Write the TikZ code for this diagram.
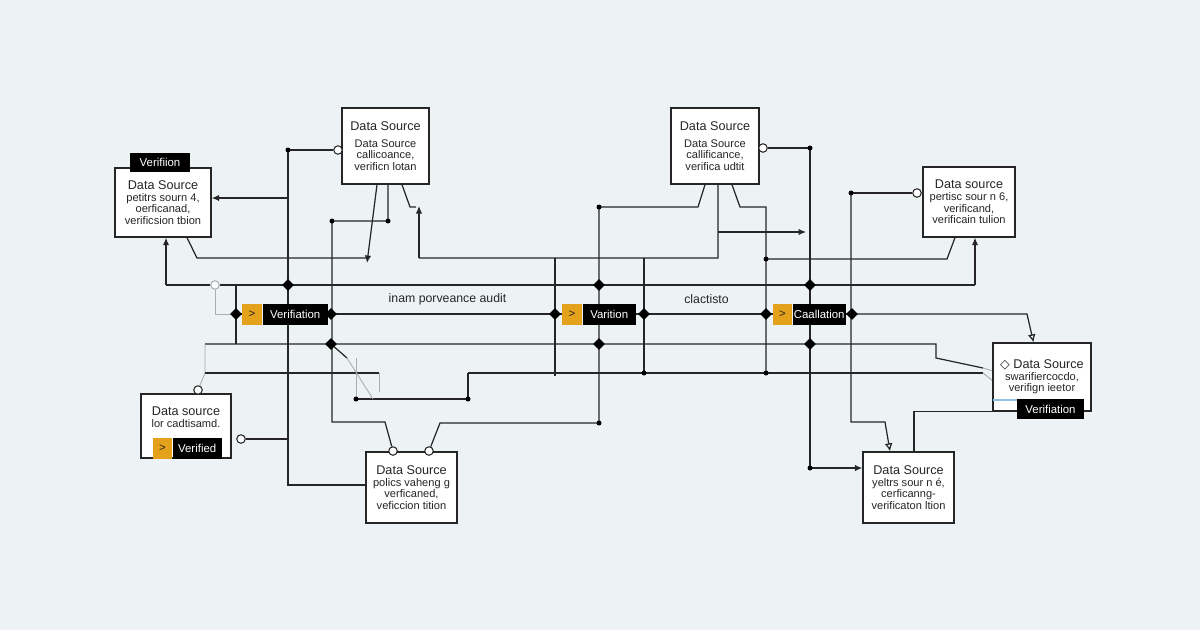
\documentclass[tikz,border=0pt]{standalone}
\usepackage{fontspec}
\setmainfont{Liberation Sans}
\newfontfamily\simbol{DejaVu Sans}
\usepackage{xcolor}
\usepackage{tikz}
\usetikzlibrary{arrows.meta, positioning, shapes.geometric, backgrounds}

\definecolor{kertas}{HTML}{EDF3F4}
\definecolor{tinta}{HTML}{262626}
\definecolor{jingga}{HTML}{E4A11B}
\definecolor{pudar}{HTML}{A8AEB1}
\definecolor{birumuda}{HTML}{8FC3E6}

\newcommand{\judul}[1]{{\fontsize{7.2}{8}\selectfont #1}}

\begin{document}
\begin{tikzpicture}[
    x=0.02cm, y=-0.02cm,
    font=\fontsize{6.3}{6.6}\selectfont,
    kotak/.style={draw=tinta, fill=white, line width=0.8pt, align=center,
                  inner sep=1pt, text=tinta},
    tanda/.style={fill=black, text=white, inner sep=0pt, minimum height=0.42cm,
                  font=\fontsize{6.5}{7}\selectfont},
    panah/.style={fill=jingga, text=tinta, inner sep=0pt, minimum height=0.42cm,
                  minimum width=0.4cm, font=\fontsize{6.5}{7}\selectfont},
    simpul/.style={diamond, fill=black, inner sep=0pt, minimum size=0.24cm},
    titik/.style={circle, fill=black, inner sep=0pt, minimum size=0.1cm},
    pintu/.style={circle, draw=tinta, fill=white, line width=0.6pt,
                  inner sep=0pt, minimum size=0.17cm},
    garis/.style={draw=tinta, line width=0.7pt},
    samar/.style={draw=pudar, line width=0.5pt},
    tuju/.style={garis, -{Latex[length=1.5mm, width=1.3mm]}},
    tujubuka/.style={garis, -{Latex[open, length=1.6mm, width=1.6mm]}}
  ]
    % kotak sumber data
    \node[kotak, minimum width=1.92cm, minimum height=1.38cm] (sumberA) at (163,202.5)
      {\judul{Data Source}\\petitrs sourn 4,\\oerficanad,\\verificsion tbion};
    \node[kotak, minimum width=1.74cm, minimum height=1.52cm] (sumberB) at (385.5,146)
      {\judul{Data Source}\\[3pt]Data Source\\callicoance,\\verificn lotan};
    \node[kotak, minimum width=1.76cm, minimum height=1.52cm] (sumberC) at (715,146)
      {\judul{Data Source}\\[3pt]Data Source\\callificance,\\verifica udtit};
    \node[kotak, minimum width=1.84cm, minimum height=1.4cm] (sumberD) at (969,202)
      {\judul{Data source}\\pertisc sour n 6,\\verificand,\\verificain tulion};
    \node[kotak, minimum width=1.96cm, minimum height=1.36cm] (sumberE) at (1042,377)
      {\judul{{\simbol ◇} Data Source}\\swarifiercocdo,\\verifign ieetor};
    \node[kotak, minimum width=1.8cm, minimum height=1.28cm] (sumberF) at (186,426)
      {\judul{Data source}\\lor cadtisamd.\\[0.12cm]\mbox{}};
    \node[kotak, minimum width=1.82cm, minimum height=1.42cm] (sumberG) at (411.5,487.5)
      {\judul{Data Source}\\polics vaheng g\\verficaned,\\veficcion tition};
    \node[kotak, minimum width=1.82cm, minimum height=1.42cm] (sumberH) at (908.5,487.5)
      {\judul{Data Source}\\yeltrs sour n é,\\cerficanng-\\verificaton ltion};

    % label hitam
    \node[tanda, minimum width=1.2cm, minimum height=0.38cm] (labelA) at (160,162) {Verifiion};
    \node[tanda, minimum width=1.34cm, minimum height=0.4cm] (labelE) at (1050.5,409) {Verifiation};

    % tanda di baris tengah
    \node[panah] (panah1) at (252,314) {>};
    \node[tanda, minimum width=1.3cm, right=0pt of panah1] (tanda1) {Verifiation};
    \node[panah] (panah2) at (572,314) {>};
    \node[tanda, minimum width=1.06cm, right=0pt of panah2] (tanda2) {Varition};
    \node[panah, minimum width=0.38cm] (panah3) at (782.5,314) {>};
    \node[tanda, minimum width=1.06cm, right=0pt of panah3] (tanda3) {Caallation};
    \node[panah, minimum width=0.38cm] (panahF) at (162.5,448.5) {>};
    \node[tanda, minimum width=0.98cm, right=0pt of panahF] (tandaF) {Verified};

    \node[font=\fontsize{7}{8}\selectfont, text=tinta] (teks1) at (447.5,299) {inam porveance audit};
    \node[font=\fontsize{7}{8}\selectfont, text=tinta] (teks2) at (706.5,299) {clactisto};

    % simpul belah ketupat
    \node[simpul] (simpul1) at (288,285) {};
    \node[simpul] (simpul2) at (599,285) {};
    \node[simpul] (simpul3) at (810,285) {};
    \node[simpul] (simpul4) at (236,314) {};
    \node[simpul] (simpul5) at (331,314) {};
    \node[simpul] (simpul6) at (555,314) {};
    \node[simpul] (simpul7) at (644,314) {};
    \node[simpul] (simpul8) at (766,314) {};
    \node[simpul] (simpul9) at (852,314) {};
    \node[simpul] (simpul10) at (331,344) {};
    \node[simpul] (simpul11) at (599,344) {};
    \node[simpul] (simpul12) at (810,344) {};

    % titik kecil
    \node[titik] (titik1) at (288,150) {};
    \node[titik] (titik2) at (332,221) {};
    \node[titik] (titik3) at (388,221) {};
    \node[titik] (titik4) at (599,207) {};
    \node[titik] (titik5) at (810,148) {};
    \node[titik] (titik6) at (851,193) {};
    \node[titik] (titik7) at (766,259) {};
    \node[titik] (titik8) at (599,423) {};
    \node[titik] (titik9) at (644,373) {};
    \node[titik] (titik10) at (766,373) {};
    \node[titik] (titik11) at (810,468) {};
    \node[titik] (titik12) at (468,399) {};
    \node[titik] (titik13) at (356,399) {};

    % pintu bulat
    \node[pintu] (pintuB) at (338,150) {};
    \node[pintu] (pintuC) at (763,148) {};
    \node[pintu] (pintuD) at (917,193) {};
    \node[pintu] (pintuF1) at (198,390) {};
    \node[pintu] (pintuF2) at (241,439) {};
    \node[pintu] (pintuG1) at (393,451) {};
    \node[pintu] (pintuG2) at (429,451) {};
    \node[pintu, draw=pudar] (cincin) at (215,285) {};

    \coordinate (rel1kiri) at (166,285);
    \coordinate (rel1kanan) at (975,285);
    \coordinate (cabA) at (288,198);
    \coordinate (bawah288) at (288,485);

    \begin{scope}[on background layer]
      \fill[kertas] (0,0) rectangle (1200,630);
      % rel atas
      \draw[tuju] (rel1kiri) -- (sumberA.south -| rel1kiri);
      \draw[garis] (rel1kiri) -- (cincin) -- (rel1kanan);
      \draw[tuju] (rel1kanan) -- (sumberD.south -| rel1kanan);
      \draw[samar] (cincin) |- (simpul4.center);
      \draw[garis] (236,285) -- (236,344);
      % baris tanda
      \draw[garis] (simpul4.center) -- (panah1);
      \draw[garis] (tanda1) -- (simpul5.center) -- (simpul6.center) -- (panah2);
      \draw[garis] (tanda2) -- (simpul7.center) -- (simpul8.center) -- (panah3);
      \draw[garis] (tanda3) -- (simpul9.center);
      \draw[tujubuka] (simpul9.center) -- (1027,314) -- ([xshift=-0.17cm]sumberE.north);
      % rel tengah dan bawah
      \draw[garis] (205,344) -- (936,344) -- (936,358) -- (983,368);
      \draw[samar] (983,368) -- (993,371);
      \draw[samar] (205,344) -- (205,373) -- (pintuF1);
      \draw[garis] (205,373) -- (379,373);
      \draw[samar] (379,373) -- (379,392);
      \draw[garis] (468,373) -- (983,373);
      \draw[samar] (983,373) -- (993,381);
      \draw[garis] (titik13.center) -- (titik12.center) -- (468,373);
      \draw[garis] (simpul10.center) -- (347,358);
      \draw[samar] (347,358) -- (373,399);
      \draw[samar] (356,358) -- (titik13.center);
      % sumber A dan B
      \draw[garis] (titik1.center) -- (pintuB);
      \draw[garis] (titik1.center) -- (bawah288) -- (bawah288 -| sumberG.west);
      \draw[tuju] (cabA) -- (cabA -| sumberA.east);
      \draw[garis] (pintuF2) -- (pintuF2 -| titik1);
      \draw[garis] ([xshift=0.48cm]sumberA.south) -- (197,258) -- (367,258);
      \draw[tuju] ([xshift=-0.17cm]sumberB.south) -- (367,263);
      \draw[garis] (sumberB.south -| titik3) -- (titik3.center) -- (titik2.center)
        -- (332,422) -- (385,422) -- (pintuG1);
      \draw[garis] ([xshift=0.33cm]sumberB.south) -- (410,207) -- (416,207);
      \draw[tuju] (419,258) -- (419,206);
      \draw[garis] (419,258) -- (718,258) -- ([xshift=0.06cm]sumberC.south);
      \draw[tuju] (718,232) -- (806,232);
      \draw[garis] (555,258) -- (555,376);
      \draw[garis] (644,258) -- (titik9.center);
      % sumber C dan D
      \draw[garis] ([xshift=-0.2cm]sumberC.south) -- (698,207) -- (titik4.center)
        -- (titik8.center) -- (440,423) -- (pintuG2);
      \draw[garis] ([xshift=0.34cm]sumberC.south) -- (740,207) -- (766,207)
        -- (titik10.center);
      \draw[garis] (titik7.center) -- (947,259) -- ([xshift=-0.28cm]sumberD.south);
      \draw[garis] (titik5.center) -- (pintuC);
      \draw[garis] (titik5.center) -- (titik11.center);
      \draw[tuju] (titik11.center) -- (titik11 -| sumberH.west);
      \draw[garis] (titik6.center) -- (pintuD);
      \draw[tujubuka] (titik6.center) -- (851,422) -- (885,422)
        -- ([xshift=-0.37cm]sumberH.north);
      \draw[garis] ([xshift=0.11cm]sumberH.north) |- (sumberE.south west);
    \end{scope}
    \draw[birumuda, line width=0.8pt] (993,400) -- (labelE.west |- 993,400);
  \end{tikzpicture}
\end{document}
